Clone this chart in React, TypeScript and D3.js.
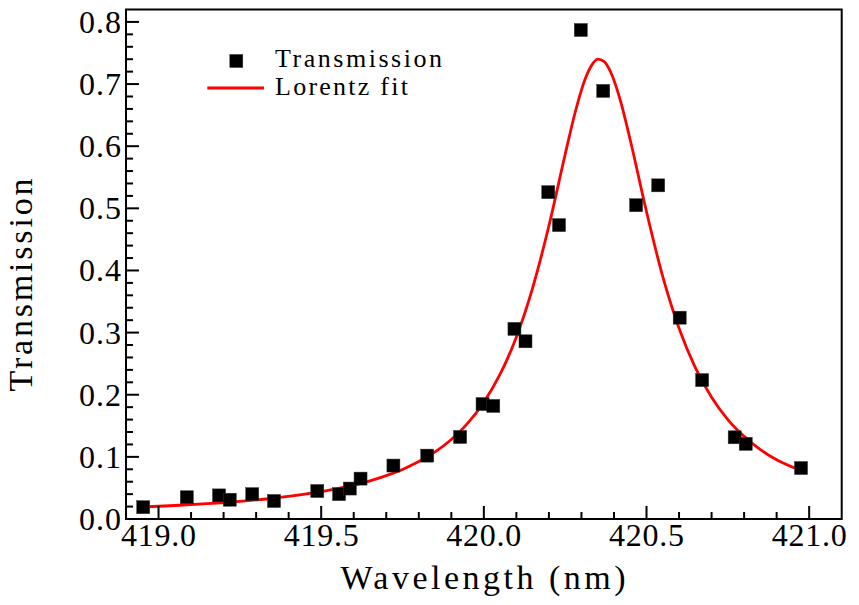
import React from "react";
import * as d3 from "d3";

const W = 859;
const H = 605;

// Measured data points (wavelength nm, transmission)
const dataWavelength = [
  418.953, 419.087, 419.186, 419.219, 419.288, 419.355, 419.488, 419.555, 419.588, 419.621,
  419.722, 419.826, 419.927, 419.996, 420.029, 420.094, 420.128, 420.198, 420.231, 420.298,
  420.367, 420.468, 420.536, 420.602, 420.671, 420.771, 420.805, 420.975,
];
const dataTransmission = [
  0.019, 0.035, 0.038, 0.031, 0.040, 0.029, 0.045, 0.040, 0.049, 0.065,
  0.086, 0.102, 0.132, 0.185, 0.182, 0.306, 0.286, 0.526, 0.473, 0.787,
  0.689, 0.505, 0.537, 0.324, 0.2235, 0.1315, 0.121, 0.082,
];

// Lorentz fit curve
const fitWavelength = [
  418.95, 419.05, 419.15, 419.25, 419.35, 419.45, 419.55, 419.65, 419.70, 419.75,
  419.80, 419.85, 419.90, 419.95, 420.00, 420.05, 420.10, 420.15, 420.20, 420.25,
  420.28, 420.31, 420.33, 420.35, 420.37, 420.39, 420.42, 420.45, 420.50, 420.55,
  420.60, 420.65, 420.70, 420.75, 420.80, 420.85, 420.90, 420.975,
];
const fitTransmission = [
  0.0193, 0.0217, 0.0247, 0.0285, 0.0334, 0.0399, 0.0488, 0.0614, 0.0697, 0.0798,
  0.0924, 0.108, 0.128, 0.154, 0.188, 0.233, 0.293, 0.372, 0.472, 0.587,
  0.653, 0.706, 0.729, 0.740, 0.736, 0.719, 0.673, 0.610, 0.4945, 0.390,
  0.307, 0.2437, 0.196, 0.160, 0.133, 0.1118, 0.0952, 0.078,
];

const xMajorTicks = [419.0, 419.5, 420.0, 420.5, 421.0];
const xTickLabels = ["419.0", "419.5", "420.0", "420.5", "421.0"];
const yMajorTicks = [0.0, 0.1, 0.2, 0.3, 0.4, 0.5, 0.6, 0.7, 0.8];
const yTickLabels = ["0.0", "0.1", "0.2", "0.3", "0.4", "0.5", "0.6", "0.7", "0.8"];

const seriesNames = ["Transmission", "Lorentz fit"];
const xTitle = "Wavelength (nm)";
const yTitle = "Transmission";

const FONT = "'Liberation Serif', 'Times New Roman', serif";

export default function App() {
  const left = 126, right = 841.7, top = 9.5, bottom = 519;
  const x = d3.scaleLinear().domain([418.9, 421.1]).range([left, right]);
  const y = d3.scaleLinear().domain([0, 0.82]).range([bottom, top]);

  const xMinor = d3.range(419.0, 421.05, 0.1).map((v) => Math.round(v * 10) / 10)
    .filter((v) => !xMajorTicks.some((m) => Math.abs(m - v) < 1e-6));
  const yMinor = d3.range(0, 0.81, 0.02).map((v) => Math.round(v * 100) / 100)
    .filter((v) => !yMajorTicks.some((m) => Math.abs(m - v) < 1e-6));

  const fitPts: [number, number][] = fitWavelength.map((w, i) => [w, fitTransmission[i]]);
  const line = d3.line<[number, number]>().x((d) => x(d[0])).y((d) => y(d[1])).curve(d3.curveMonotoneX);

  const sq = 13;
  const majorLen = 13, minorLen = 7;

  return (
    <svg width={W} height={H} style={{ position: "absolute", left: 0, top: 0, background: "#fff" }}>
      <rect x={0} y={0} width={W} height={H} fill="#fff" />
      {/* fit line */}
      <path d={line(fitPts) || ""} fill="none" stroke="#ff0000" strokeWidth={2.8} strokeLinejoin="round" />
      {/* data */}
      {dataWavelength.map((w, i) => (
        <rect key={i} x={x(w) - sq / 2} y={y(dataTransmission[i]) - sq / 2} width={sq} height={sq}
          fill="#000" stroke="#333" strokeWidth={0.5} />
      ))}
      {/* frame */}
      <rect x={left} y={top} width={right - left} height={bottom - top} fill="none" stroke="#000" strokeWidth={2} />
      {/* x ticks */}
      {xMajorTicks.map((v, i) => (
        <g key={"xm" + i}>
          <line x1={x(v)} x2={x(v)} y1={bottom} y2={bottom - majorLen} stroke="#000" strokeWidth={2} />
          <text x={x(v)} y={bottom + 27} textAnchor="middle" fontFamily={FONT} fontSize={32}
            textLength={75} lengthAdjust="spacing">{xTickLabels[i]}</text>
        </g>
      ))}
      {xMinor.map((v, i) => (
        <line key={"xn" + i} x1={x(v)} x2={x(v)} y1={bottom} y2={bottom - minorLen} stroke="#000" strokeWidth={2} />
      ))}
      {/* y ticks */}
      {yMajorTicks.map((v, i) => (
        <g key={"ym" + i}>
          <line x1={left} x2={left + majorLen} y1={y(v)} y2={y(v)} stroke="#000" strokeWidth={2} />
          <text x={121} y={y(v) + 11} textAnchor="end" fontFamily={FONT} fontSize={32}
            textLength={42} lengthAdjust="spacing">{yTickLabels[i]}</text>
        </g>
      ))}
      {yMinor.map((v, i) => (
        <line key={"yn" + i} x1={left} x2={left + minorLen} y1={y(v)} y2={y(v)} stroke="#000" strokeWidth={2} />
      ))}
      {/* axis titles */}
      <text x={483} y={589.3} textAnchor="middle" fontFamily={FONT} fontSize={34}
        textLength={285} lengthAdjust="spacing">{xTitle}</text>
      <text transform="translate(32,285) rotate(-90)" textAnchor="middle" fontFamily={FONT} fontSize={34}
        textLength={213} lengthAdjust="spacing">{yTitle}</text>
      {/* legend */}
      <rect x={236.3 - sq / 2} y={61 - sq / 2} width={sq} height={sq} fill="#000" stroke="#333" strokeWidth={0.5} />
      <line x1={207.3} x2={264} y1={88} y2={88} stroke="#ff0000" strokeWidth={2.8} />
      <text x={275} y={66.7} fontFamily={FONT} fontSize={26} textLength={167} lengthAdjust="spacing">{seriesNames[0]}</text>
      <text x={275} y={95} fontFamily={FONT} fontSize={26} textLength={133} lengthAdjust="spacing">{seriesNames[1]}</text>
    </svg>
  );
}
